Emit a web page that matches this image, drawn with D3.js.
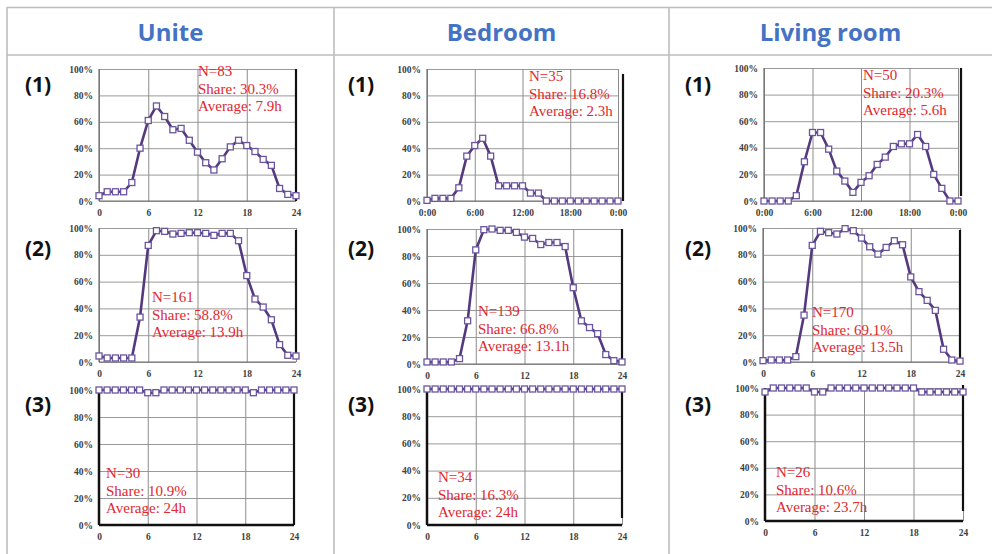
<!DOCTYPE html>
<html>
<head>
<meta charset="utf-8">
<script src="https://cdn.jsdelivr.net/npm/d3@7/dist/d3.min.js"></script>
<style>
  html, body { margin: 0; padding: 0; background: #fff; }
  svg { display: block; }
</style>
</head>
<body>
<svg id="chart" width="992" height="554"></svg>
<script>
// ---- data ----
const rooms = ["Unite", "Bedroom", "Living room"];
const groups = ["(1)", "(2)", "(3)"];
const hours = [0, 1, 2, 3, 4, 5, 6, 7, 8, 9, 10, 11, 12, 13, 14, 15, 16, 17, 18, 19, 20, 21, 22, 23, 24];
const hourTicks = [0, 6, 12, 18, 24];
const numericTickLabels = ["0", "6", "12", "18", "24"];
const clockTickLabels = ["0:00", "6:00", "12:00", "18:00", "0:00"];
const percentTicks = [0, 20, 40, 60, 80, 100];

// share of households with heating on, per hour (%)
const uniteG1   = [4, 7, 7, 7, 14, 40, 61, 72, 64, 54, 55, 46, 37, 29, 23.5, 32, 41, 46, 42, 37.5, 31.5, 27, 9.5, 5, 4];
const bedroomG1 = [0.5, 2, 2, 2, 10, 34, 42, 47.5, 34, 11.5, 11.5, 11.5, 11.5, 6, 6, 0, 0, 0, 0, 0, 0, 0, 0, 0, 0];
const livingG1  = [0, 0, 0, 0, 4, 29.5, 51.5, 51.5, 39, 22.5, 15, 6.5, 14, 19, 27.5, 33, 41, 43, 43, 50, 41, 20, 9.5, 0, 0];

const uniteG2   = [4.5, 3, 3, 3, 3, 33.5, 87, 98, 97.5, 95.5, 96, 96.5, 96.5, 96, 94.5, 96, 96, 90.5, 64.5, 47, 41, 31.5, 13, 5, 4.5];
const bedroomG2 = [1.5, 1.5, 1.5, 1.5, 4, 32, 84.5, 99.5, 100, 99, 99, 97.5, 94, 93, 88.5, 90, 90, 87, 56.5, 32, 27, 22.5, 7, 2.5, 1.5];
const livingG2  = [1, 1.5, 1.5, 1.5, 4, 35, 87, 97.5, 96.5, 95.5, 99.5, 98, 92.5, 86, 80.5, 85.5, 90.5, 87.5, 63.5, 52.5, 46, 38.5, 9.5, 1.5, 0.7];

const uniteG3   = [100, 100, 100, 100, 100, 100, 98, 98, 100, 100, 100, 100, 100, 100, 100, 100, 100, 100, 100, 98, 100, 100, 100, 100, 100];
const bedroomG3 = [100, 100, 100, 100, 100, 100, 100, 100, 100, 100, 100, 100, 100, 100, 100, 100, 100, 100, 100, 100, 100, 100, 100, 100, 100];
const livingG3  = [97, 100, 100, 100, 100, 100, 97, 97, 100, 100, 100, 100, 100, 100, 100, 100, 100, 100, 100, 97, 97, 97, 97, 97, 97];

const nValues  = [83, 35, 50, 161, 139, 170, 30, 34, 26];
const shares   = ["30.3%", "16.8%", "20.3%", "58.8%", "66.8%", "69.1%", "10.9%", "16.3%", "10.6%"];
const averages = ["7.9h", "2.3h", "5.6h", "13.9h", "13.1h", "13.5h", "24h", "24h", "23.7h"];

const seriesList = [uniteG1, bedroomG1, livingG1, uniteG2, bedroomG2, livingG2, uniteG3, bedroomG3, livingG3];

// ---- layout of the nine small plots (row-major) ----
const panels = [
  { x0: 99,  x1: 296, y0: 69,  y1: 201, edge: 296, e0: 69,  e1: 201, tx: 99, ty: 7,  clock: false },
  { x0: 427, x1: 618, y0: 69,  y1: 201, edge: 623, e0: 74,  e1: 201, tx: 102, ty: 12, clock: true },
  { x0: 764, x1: 958, y0: 68,  y1: 201, edge: 961, e0: 68,  e1: 196, tx: 99, ty: 12, clock: true },
  { x0: 99,  x1: 296, y0: 228, y1: 362, edge: 296, e0: 230, e1: 359, tx: 53, ty: 74, clock: false },
  { x0: 427, x1: 622, y0: 229, y1: 364, edge: 622, e0: 229, e1: 364, tx: 51, ty: 87, clock: false },
  { x0: 763, x1: 960, y0: 228, y1: 362, edge: 960, e0: 230, e1: 358, tx: 49, ty: 89, clock: false },
  { x0: 99,  x1: 294, y0: 390, y1: 525, edge: 294, e0: 390, e1: 525, tx: 7,  ty: 88, clock: false, heavy: true },
  { x0: 427, x1: 622, y0: 389, y1: 525, edge: 622, e0: 392, e1: 518, tx: 11, ty: 93, clock: false, heavy: true },
  { x0: 765, x1: 963, y0: 388, y1: 521, edge: 963, e0: 385, e1: 511, tx: 11, ty: 89, clock: false, heavy: true }
];

const colLeft = [7, 334, 669];
const groupLabelPos = [ [25, 92], [25, 256], [25, 412] ];
const groupLabelDx = [0, 323, 660];

const svg = d3.select("#chart");

// ---- table frame ----
const frame = svg.append("g").attr("stroke", "#bdbdbd").attr("stroke-width", 1.6);
frame.append("line").attr("x1", 7).attr("x2", 992).attr("y1", 7.5).attr("y2", 7.5);
frame.append("line").attr("x1", 7).attr("x2", 992).attr("y1", 55).attr("y2", 55);
colLeft.forEach(x => {
  frame.append("line").attr("x1", x).attr("x2", x).attr("y1", 7).attr("y2", 554);
});

// column headers
const colRight = [334, 669, 992];
rooms.forEach((r, i) => {
  svg.append("text")
    .attr("x", (colLeft[i] + colRight[i]) / 2)
    .attr("y", 41)
    .attr("text-anchor", "middle")
    .attr("font-family", "'Open Sans', sans-serif")
    .attr("font-weight", 700)
    .attr("font-size", 24)
    .attr("fill", "#4472c4")
    .text(r);
});

// row labels in each column
groups.forEach((g, ri) => {
  rooms.forEach((r, ci) => {
    svg.append("text")
      .attr("x", groupLabelPos[ri][0] + groupLabelDx[ci])
      .attr("y", groupLabelPos[ri][1])
      .attr("font-family", "'Open Sans', sans-serif")
      .attr("font-weight", 700)
      .attr("font-size", 21)
      .attr("fill", "#111")
      .text(g);
  });
});

// ---- each small line chart ----
const lineColor = "#54397f";
const markerColor = "#6b559f";

panels.forEach((p, k) => {
  const values = seriesList[k];
  const x = d3.scaleLinear().domain([0, 24]).range([p.x0, p.x1]);
  const y = d3.scaleLinear().domain([0, 100]).range([p.y1, p.y0]);
  const g = svg.append("g");

  // horizontal grid
  g.append("g")
    .attr("transform", `translate(${p.x0},0)`)
    .call(d3.axisLeft(y).tickValues(percentTicks).tickSize(-(p.x1 - p.x0)).tickFormat(d => d + "%"))
    .call(a => a.select(".domain").remove())
    .call(a => a.selectAll(".tick line").attr("stroke", "#9a9a9a").attr("stroke-width", 1))
    .call(a => a.selectAll(".tick text")
      .attr("x", -6)
      .attr("font-family", "'Liberation Serif', serif")
      .attr("font-weight", 700)
      .attr("font-size", 9.5)
      .attr("fill", "#404040"));

  // vertical grid + hour labels
  const labels = p.clock ? clockTickLabels : numericTickLabels;
  g.append("g")
    .attr("transform", `translate(0,${p.y1})`)
    .call(d3.axisBottom(x).tickValues(hourTicks).tickSize(-(p.y1 - p.y0)).tickFormat((d, i) => labels[i]))
    .call(a => a.select(".domain").remove())
    .call(a => a.selectAll(".tick line").attr("stroke", "#8c8c8c").attr("stroke-width", 1))
    .call(a => a.selectAll(".tick text")
      .attr("y", 6)
      .attr("dy", "0.9em")
      .attr("font-family", "'Liberation Serif', serif")
      .attr("font-weight", 700)
      .attr("font-size", 9.5)
      .attr("fill", "#404040"));

  // axis lines
  const axisStroke = p.heavy ? "#111" : "#6e6e6e";
  const axisWidth = p.heavy ? 2.5 : 1.2;
  g.append("line").attr("x1", p.x0).attr("x2", p.x0).attr("y1", p.y0).attr("y2", p.y1)
    .attr("stroke", axisStroke).attr("stroke-width", axisWidth);
  g.append("line").attr("x1", p.x0).attr("x2", p.x1).attr("y1", p.y1).attr("y2", p.y1)
    .attr("stroke", axisStroke).attr("stroke-width", axisWidth);
  // right frame edge
  g.append("line").attr("x1", p.edge).attr("x2", p.edge).attr("y1", p.e0).attr("y2", p.e1)
    .attr("stroke", "#111").attr("stroke-width", 2.2);

  // series line
  const line = d3.line().x((d, i) => x(hours[i])).y(d => y(d));
  g.append("path")
    .datum(values)
    .attr("d", line)
    .attr("fill", "none")
    .attr("stroke", lineColor)
    .attr("stroke-width", 2.6)
    .attr("stroke-linejoin", "round");

  // hollow square markers
  const s = 6;
  g.selectAll("rect.pt")
    .data(values)
    .join("rect")
    .attr("class", "pt")
    .attr("x", (d, i) => x(hours[i]) - s / 2)
    .attr("y", d => y(d) - s / 2)
    .attr("width", s)
    .attr("height", s)
    .attr("fill", "#fff")
    .attr("stroke", markerColor)
    .attr("stroke-width", 1.3);

  // statistics note
  const note = g.append("text")
    .attr("font-family", "'Liberation Serif', serif")
    .attr("font-size", 15)
    .attr("fill", "#e0282e");
  const lines = [`N=${nValues[k]}`, `Share: ${shares[k]}`, `Average: ${averages[k]}`];
  lines.forEach((t, j) => {
    note.append("tspan")
      .attr("x", p.x0 + p.tx)
      .attr("y", p.y0 + p.ty + j * 17.5)
      .text(t);
  });
});
</script>
</body>
</html>
